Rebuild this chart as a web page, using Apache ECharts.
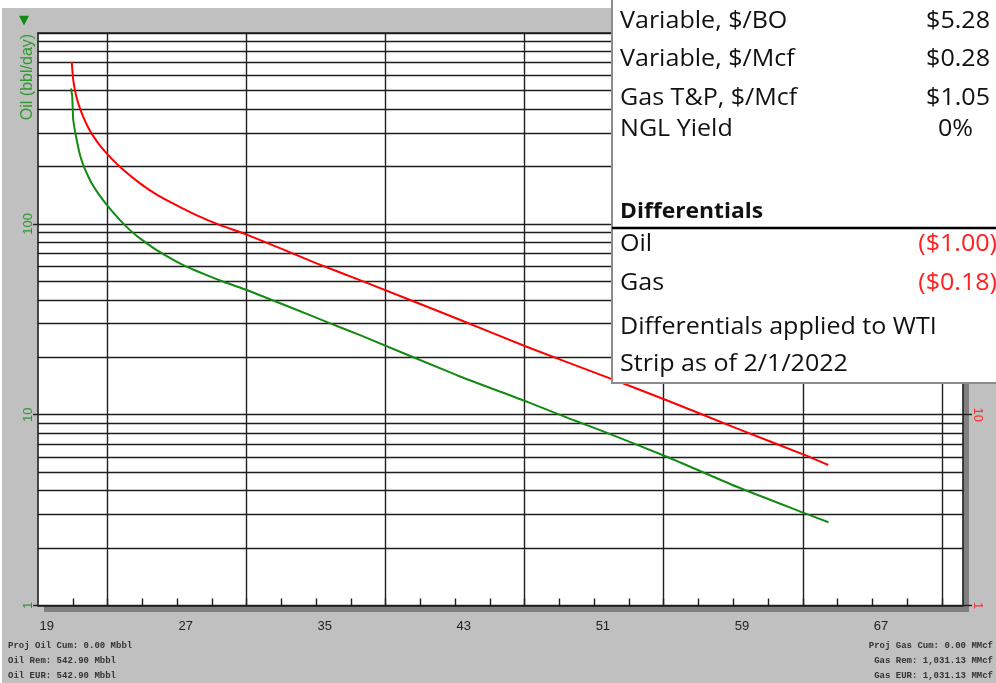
<!DOCTYPE html>
<html><head><meta charset="utf-8">
<script src="https://cdn.jsdelivr.net/npm/echarts@6/dist/echarts.min.js"></script>
<style>html,body{margin:0;padding:0;background:#c0c0c0;overflow:hidden}#c{width:996px;height:683px}</style>
</head><body><div id="c"></div>
<script>
// ---- data ----
const xTickLabels = [19, 27, 35, 43, 51, 59, 67];
const yTickLabels = [1, 10, 100];
const gasYears = [20.44, 20.53, 20.66, 20.83, 21.11, 21.38, 21.68, 22.07, 22.54, 23.32, 24.37, 25.40, 26.48, 27.71, 28.97, 30.51, 34.53, 37.02, 42.59, 46.61, 51.41, 54.67, 58.70, 62.63, 63.97];
const gasRate  = [706, 566, 484, 424, 362, 321, 288, 257, 229, 195, 163, 141, 125, 110, 98.4, 87.8, 62.1, 50.7, 31.9, 22.7, 15.5, 11.9, 8.48, 6.14, 5.45];
const oilYears = [20.40, 20.47, 20.53, 20.73, 20.92, 21.15, 21.38, 21.59, 21.97, 22.54, 23.22, 23.79, 24.37, 25.33, 26.86, 29.17, 30.51, 33.19, 35.31, 37.03, 42.60, 46.62, 49.30, 50.84, 54.68, 58.71, 62.64, 63.98];
const oilRate  = [512, 463, 349, 274, 229, 198, 178, 163, 144, 123, 104.6, 92.7, 83.9, 72.8, 60.8, 49.7, 45.0, 36.0, 30.1, 26.1, 16.1, 11.7, 9.37, 8.30, 6.02, 4.19, 3.04, 2.73];
const costLabels = ["Variable, $/BO", "Variable, $/Mcf", "Gas T&P, $/Mcf", "NGL Yield"];
const costValues = ["$5.28", "$0.28", "$1.05", "0%"];
const diffLabels = ["Oil", "Gas"];
const diffValues = ["($1.00)", "($0.18)"];
const noteLines = ["Differentials applied to WTI", "Strip as of 2/1/2022"];
const oilStats = ["Proj Oil Cum: 0.00 Mbbl", "Oil Rem: 542.90 Mbbl", "Oil EUR: 542.90 Mbbl"];
const gasStats = ["Proj Gas Cum: 0.00 MMcf", "Gas Rem: 1,031.13 MMcf", "Gas EUR: 1,031.13 MMcf"];

// ---- axis helpers ----
const X_MIN = 18.5, X_MAX = 71.72;
const minorX = []; for (let v = 20.5; v <= X_MAX; v += 2) minorX.push(v);
const gridX = []; for (let v = 22.5; v <= X_MAX; v += 8) gridX.push(v);
const gridY = []; [1, 10, 100].forEach(d => { for (let m = 1; m <= 9; m++) gridY.push(m * d); }); gridY.push(1000);

const GREEN = '#138a13', RED = '#ff0000', LINE = '#1e1e1e';
const chart = echarts.init(document.getElementById('c'), null, {renderer: 'canvas'});

const legendFont = '23px "Open Sans"';
const SX = 1.09;
const rowsY = [21.5, 59.5, 98.5, 129.5];
const graphics = [
  {type: 'rect', silent: true, z: 0, shape: {x: 0, y: 0, width: 612, height: 8}, style: {fill: '#ffffff'}},
  {type: 'rect', silent: true, z: 0, shape: {x: 0, y: 0, width: 2, height: 683}, style: {fill: '#ffffff'}},
  {type: 'rect', silent: true, z: 0, shape: {x: 963, y: 39, width: 6, height: 573}, style: {fill: '#808080'}},
  {type: 'rect', silent: true, z: 0, shape: {x: 44, y: 606, width: 925, height: 6}, style: {fill: '#808080'}},
  {type: 'text', silent: true, x: 24, y: 21, style: {text: '▼', font: '13px "DejaVu Sans"', fill: GREEN, align: 'center', verticalAlign: 'middle'}},
  {type: 'text', silent: true, x: 28, y: 77, rotation: Math.PI / 2, style: {text: 'Oil (bbl/day)', font: '16px "Liberation Sans"', fill: '#2e9a2e', align: 'center', verticalAlign: 'middle'}},
];
oilStats.forEach((t, i) => graphics.push({type: 'text', silent: true, x: 8, y: 646 + i * 15, style: {text: t, font: 'bold 9px "Liberation Mono"', fill: '#333', align: 'left', verticalAlign: 'middle'}}));
gasStats.forEach((t, i) => graphics.push({type: 'text', silent: true, x: 993, y: 646 + i * 15, style: {text: t, font: 'bold 9px "Liberation Mono"', fill: '#333', align: 'right', verticalAlign: 'middle'}}));
// legend box
graphics.push({type: 'rect', silent: true, z: 100, shape: {x: 612, y: -4, width: 392, height: 387}, style: {fill: '#ffffff', stroke: '#8c8c8c', lineWidth: 2}});
graphics.push({type: 'line', silent: true, z: 101, shape: {x1: 612, y1: 228, x2: 996, y2: 228}, style: {stroke: '#000', lineWidth: 2.5}});
function legendText(t, x, y, align, fill, font, sx) {
  graphics.push({type: 'text', silent: true, z: 101, x: x, y: y, scaleX: sx || SX, style: {text: t, font: font || legendFont, fill: fill || '#111', align: align, verticalAlign: 'middle'}});
}
costLabels.forEach((t, i) => legendText(t, 620, rowsY[i], 'left'));
costValues.forEach((t, i) => {
  const isPct = t.indexOf('%') >= 0;
  legendText(t, isPct ? 973 : 990, rowsY[i], 'right');
});
legendText('Differentials', 620, 211.5, 'left', '#111', 'bold 22px "Open Sans"', 1.04);
const diffY = [244.5, 283.5];
diffLabels.forEach((t, i) => {
  legendText(t, 620, diffY[i], 'left');
  legendText(diffValues[i], 997, diffY[i], 'right', '#ff2020');
});
const noteY = [327.5, 364.5];
noteLines.forEach((t, i) => legendText(t, 620, noteY[i], 'left'));

const option = {
  animation: false,
  backgroundColor: '#c0c0c0',
  grid: {left: 38, top: 33, right: 33, bottom: 77.5, show: true, backgroundColor: '#ffffff', borderWidth: 0, outerBoundsMode: 'none'},
  xAxis: [
    {type: 'value', position: 'bottom', min: X_MIN, max: X_MAX,
     axisLine: {show: true, onZero: false, lineStyle: {color: LINE, width: 1.6}},
     axisTick: {show: true, inside: true, length: 7, customValues: minorX, lineStyle: {color: LINE, width: 1.4}},
     axisLabel: {show: true, customValues: xTickLabels, color: '#222', fontSize: 13, fontFamily: 'Liberation Sans', margin: 14, showMinLabel: true, showMaxLabel: true},
     splitLine: {show: false}},
    {type: 'value', position: 'top', min: X_MIN, max: X_MAX,
     axisLine: {show: true, onZero: false, lineStyle: {color: LINE, width: 1.6}},
     axisTick: {show: false, customValues: gridX},
     axisLabel: {show: false},
     splitLine: {show: true, lineStyle: {color: LINE, width: 1.4}}}
  ],
  yAxis: [
    {type: 'log', logBase: 10, position: 'left', min: 1, max: 1000,
     axisLine: {show: true, onZero: false, lineStyle: {color: LINE, width: 1.6}},
     axisTick: {show: true, length: 5, customValues: yTickLabels, lineStyle: {color: LINE, width: 1.4}},
     axisLabel: {show: true, customValues: yTickLabels, rotate: 90, color: '#2e9a2e', fontSize: 13, fontFamily: 'Liberation Sans', margin: 3},
     splitLine: {show: false}},
    {type: 'log', logBase: 10, position: 'right', min: 1, max: 1000,
     axisLine: {show: true, onZero: false, lineStyle: {color: LINE, width: 1.6}},
     axisTick: {show: false, customValues: gridY},
     axisLabel: {show: true, customValues: yTickLabels, rotate: -90, color: '#ff3030', fontSize: 13, fontFamily: 'Liberation Sans', margin: 8},
     splitLine: {show: true, lineStyle: {color: LINE, width: 1.4}}},
    {type: 'log', logBase: 10, position: 'right', min: 1, max: 1000,
     axisLine: {show: false},
     axisTick: {show: true, length: 9, customValues: yTickLabels, lineStyle: {color: LINE, width: 1.4}},
     axisLabel: {show: false},
     splitLine: {show: false}}
  ],
  series: [
    {name: 'Oil', type: 'line', xAxisIndex: 0, yAxisIndex: 0, showSymbol: false, smooth: 0.2,
     lineStyle: {color: GREEN, width: 2}, itemStyle: {color: GREEN}, z: 5,
     data: oilYears.map((x, i) => [x, oilRate[i]])},
    {name: 'Gas', type: 'line', xAxisIndex: 0, yAxisIndex: 0, showSymbol: false, smooth: 0.2,
     lineStyle: {color: RED, width: 2}, itemStyle: {color: RED}, z: 5,
     data: gasYears.map((x, i) => [x, gasRate[i]])}
  ],
  graphic: graphics
};
chart.setOption(option);
</script>
</body></html>
